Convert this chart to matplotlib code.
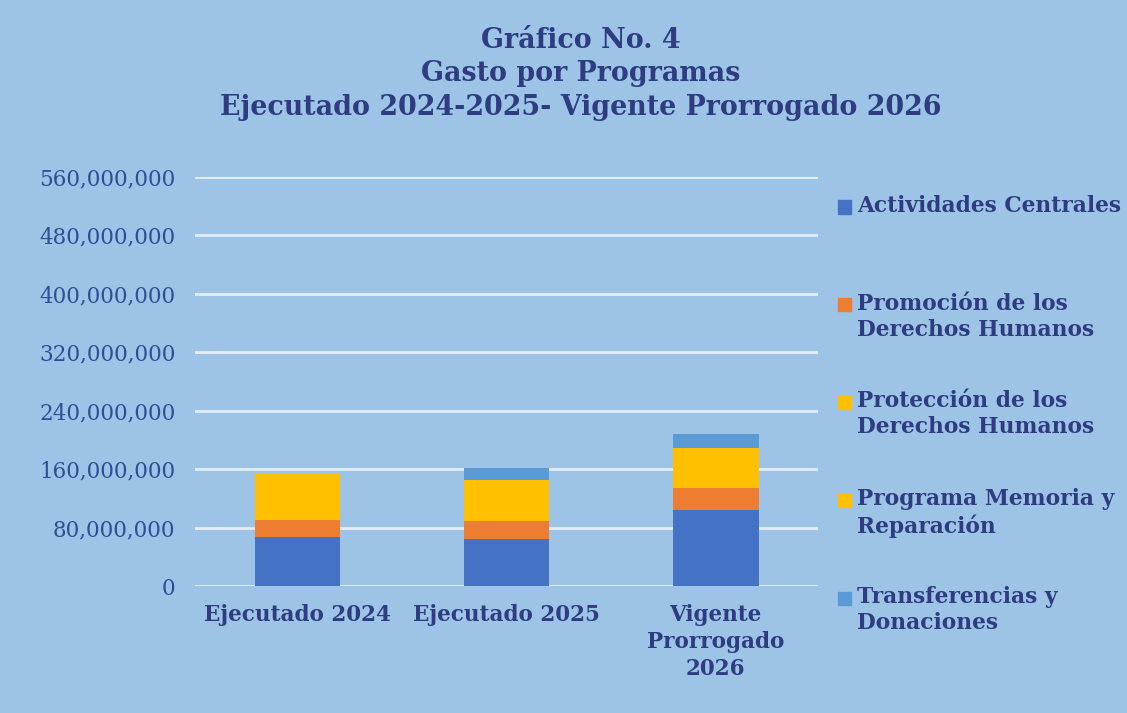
import numpy as np
import matplotlib.pyplot as plt
from matplotlib.patches import Rectangle
from matplotlib.ticker import FuncFormatter

# data (quetzales)
categorias = ['Ejecutado 2024', 'Ejecutado 2025', 'Vigente\nProrrogado\n2026']
actividades_centrales = [66.7e6, 63.9e6, 104.1e6]
promocion_ddhh = [24.2e6, 24.7e6, 29.7e6]
proteccion_ddhh = [64.4e6, 57.1e6, 48.8e6]
memoria_reparacion = [0, 0, 6.4e6]
transferencias = [0, 15.9e6, 19.6e6]

series = [
    ('Actividades Centrales', actividades_centrales, '#4472C4'),
    ('Promoción de los\nDerechos Humanos', promocion_ddhh, '#ED7D31'),
    ('Protección de los\nDerechos Humanos', proteccion_ddhh, '#FFC000'),
    ('Programa Memoria y\nReparación', memoria_reparacion, '#FFC000'),
    ('Transferencias y\nDonaciones', transferencias, '#5B9BD5'),
]

bg = '#9DC3E6'
txt = '#2E3C80'
font = 'DejaVu Serif'

fig = plt.figure(figsize=(11.27, 7.13), dpi=100, facecolor=bg)
ax = fig.add_axes([0.173, 0.178, 0.553, 0.574])
ax.set_facecolor(bg)

x = np.arange(len(categorias))
bottom = np.zeros(len(categorias))
for name, vals, col in series:
    vals = np.array(vals)
    ax.bar(x, vals, 0.41, bottom=bottom, color=col, zorder=3)
    bottom += vals

ax.set_xlim(-0.49, 2.49)
ax.set_ylim(0, 560e6)
ax.set_yticks(np.arange(0, 560e6 + 1, 80e6))
ax.yaxis.set_major_formatter(FuncFormatter(lambda v, p: f'{int(v):,}'))
ax.grid(axis='y', color='#E4EDF6', linewidth=2, zorder=0)
for s in ax.spines.values():
    s.set_visible(False)
ax.tick_params(axis='y', length=0, pad=14, labelsize=15.5, labelcolor='#2F4F94')
ax.tick_params(axis='x', length=0, pad=13)
for lab in ax.get_yticklabels():
    lab.set_family(font)
ax.set_xticks(x)
ax.set_xticklabels(categorias, fontsize=15.5, fontweight='bold', color=txt,
                   family=font, linespacing=1.3)

fig.text(0.515, 0.962, 'Gráfico No. 4\nGasto por Programas\nEjecutado 2024-2025- Vigente Prorrogado 2026',
         ha='center', va='top', fontsize=19.4, fontweight='bold', color=txt,
         family=font, linespacing=1.3)

# legend drawn by hand to keep the wide spacing
H, W = 713, 1127
centers = [207, 304.5, 402, 500, 598]
for (name, vals, col), cy in zip(series, centers):
    fig.patches.append(Rectangle((838 / W, 1 - (cy + 6.5) / H), 13 / W, 13 / H,
                                 transform=fig.transFigure, color=col))
    fig.text(857 / W, 1 - (cy - 12) / H, name, ha='left', va='top', fontsize=15.7,
             fontweight='bold', color=txt, family=font, linespacing=1.25)

fig.savefig('out.png', dpi=100, facecolor=bg)
